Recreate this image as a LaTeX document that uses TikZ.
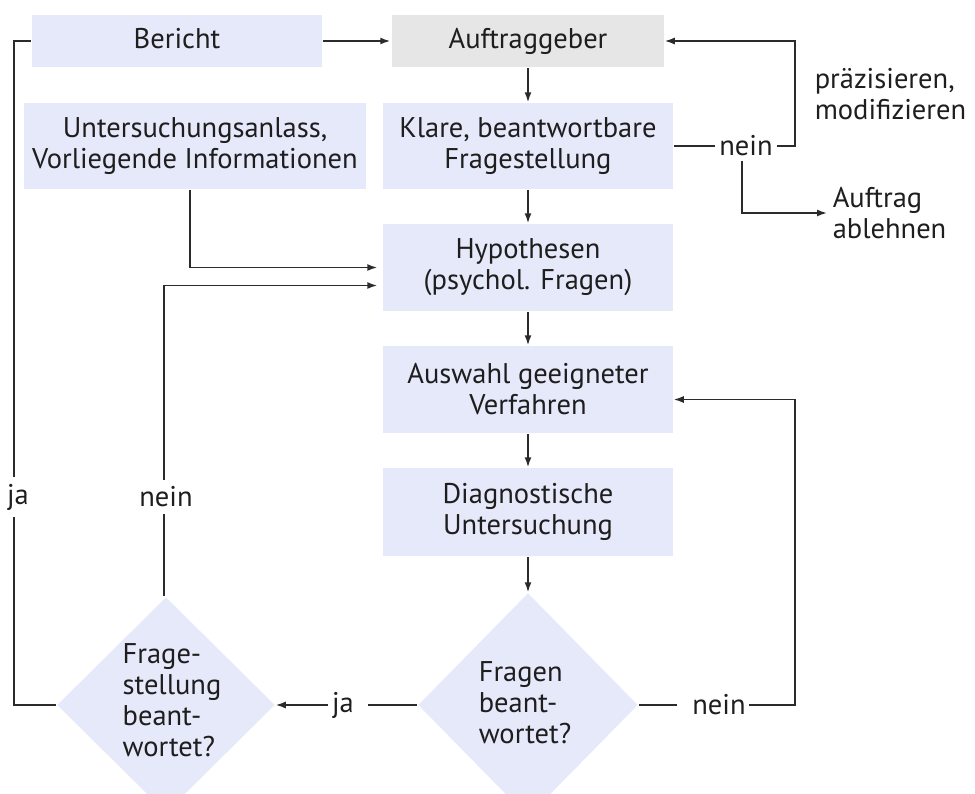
\documentclass[tikz,border=0pt]{standalone}
\usepackage{fontspec}
\setmainfont{PT Sans}
\usetikzlibrary{arrows.meta,shapes.geometric,calc}
\definecolor{boxblue}{HTML}{E6E9FA}
\definecolor{boxgrey}{HTML}{E6E6E6}
\definecolor{linec}{HTML}{2B2B2B}
\definecolor{textc}{HTML}{1E1E1E}
\newcommand\dfont{\fontsize{28.5}{31}\selectfont}
\begin{document}
\begin{tikzpicture}[x=1pt,y=-1pt,
  line width=1.5pt,
  color=linec,
  every node/.style={text=textc,font=\dfont},
  box/.style={fill=boxblue,inner sep=0pt,align=center},
  one/.style={text height=20pt,text depth=6pt},
  dia/.style={fill=boxblue,diamond,inner sep=0pt,shape aspect=1},
  lbl/.style={inner sep=4pt},
  arr/.style={-{Latex[length=10pt,width=7pt]}}]
\useasboundingbox (0,0) rectangle (975,793);
\begin{scope}
\clip (0,0) rectangle (975,793);
% boxes
\node[box,one,minimum width=290pt,minimum height=52pt] (ber) at (177,41) {Bericht};
\node[box,one,fill=boxgrey,minimum width=272pt,minimum height=52pt] (auf) at (528,41) {Auftraggeber};
\node[box,minimum width=342pt,minimum height=86pt] (unt) at (195,146) {Untersuchungsanlass,\\Vorliegende Informationen};
\node[box,minimum width=290pt,minimum height=86pt] (kla) at (528,146) {Klare, beantwortbare\\Fragestellung};
\node[box,minimum width=290pt,minimum height=87pt] (hyp) at (528,267.5) {Hypothesen\\(psychol. Fragen)};
\node[box,minimum width=290pt,minimum height=87pt] (ausw) at (528,389.5) {Auswahl geeigneter\\Verfahren};
\node[box,minimum width=290pt,minimum height=88pt] (diag) at (528,512) {Diagnostische\\Untersuchung};
% diamonds
\node[dia,minimum width=218pt,minimum height=216pt] (dl) at (166,705) {};
\node[align=left,inner sep=0pt] (dltxt) at (172,700) {Frage-\\stellung\\beant-\\wortet?};
\node[dia,minimum width=220pt,minimum height=224pt] (dr) at (528,705) {};
\node[align=left,inner sep=0pt] (drtxt) at (525,703) {Fragen\\beant-\\wortet?};
% labels
\node[lbl] (nein1) at (746,146) {nein};
\node[anchor=west,align=left,inner sep=0pt] (abl) at (832,213) {Auftrag\\ablehnen};
\node[anchor=west,align=left,inner sep=0pt] (prae) at (814,94) {präzisieren,\\modifizieren};
\node[lbl,inner sep=6pt] (ja1) at (18,497) {ja};
\node[lbl,inner sep=6pt] (nein2) at (166,497) {nein};
\node[lbl,inner sep=3pt] (ja2) at (343,705) {ja};
\node[lbl,inner sep=3pt] (nein3) at (719,705) {nein};
\coordinate (r1) at (795,146);
\coordinate (r2) at (795,705);
% connectors
\draw[arr] (ber.east) -- ([xshift=-1pt]auf.west);
\draw[arr] (auf.south) -- (kla.north);
\draw[arr] (kla.south) -- (hyp.north);
\draw[arr] (hyp.south) -- (ausw.north);
\draw[arr] (ausw.south) -- (diag.north);
\draw[arr] (diag.south) -- (dr.north);
\draw (kla.east) -- (nein1.west);
\draw[arr] (nein1.east) -- (r1) |- (auf.east);
\draw[arr] ([xshift=-4pt]nein1.south) |- ([xshift=-5pt]abl.west);
\draw[arr,shorten >=5pt] ([xshift=-5pt]unt.south) |- (hyp.west);
\draw ([xshift=-2pt]dl.north) -- ([xshift=-2pt]nein2.south);
\draw[arr,shorten >=5pt] ([xshift=-2pt]nein2.north) |- ($(hyp.west)+(0,18)$);
\draw (dl.west) -| ([xshift=-4pt]ja1.south);
\draw ([xshift=-4pt]ja1.north) |- (ber.west);
\draw (dr.west) -- ([xshift=10pt]ja2.east);
\draw[arr] (ja2.west) -- (dl.east);
\draw (dr.east) -- ([xshift=-12pt]nein3.west);
\draw[arr] (nein3.east) -- (r2) |- ($(ausw.east)+(0,10)$);
\end{scope}
\end{tikzpicture}
\end{document}
